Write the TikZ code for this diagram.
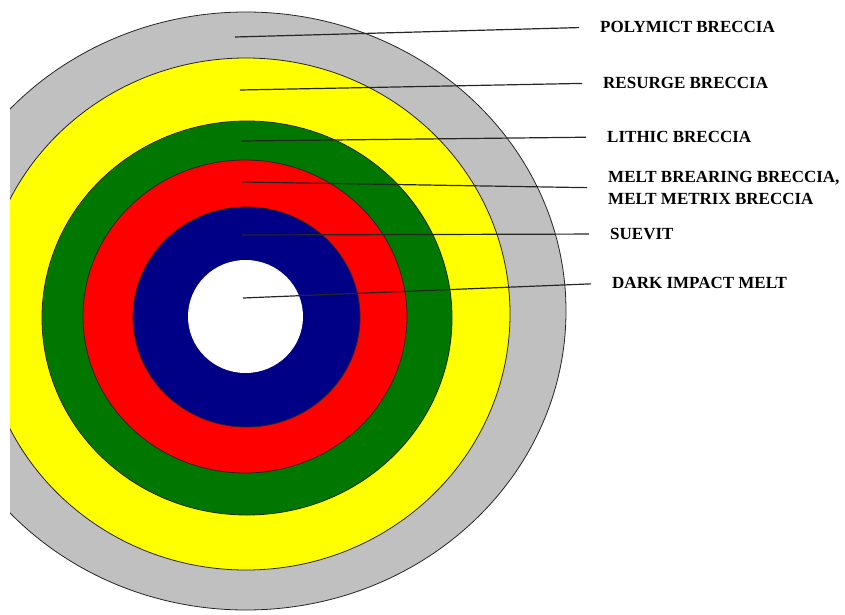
\documentclass[tikz,border=0pt]{standalone}
\usepackage{fontspec}
\setmainfont{Liberation Serif}
\usepackage{tikz}
\usetikzlibrary{positioning,calc}
\definecolor{ringGray}{RGB}{192,192,192}
\definecolor{ringYellow}{RGB}{255,255,0}
\definecolor{ringGreen}{RGB}{0,120,0}
\definecolor{ringRed}{RGB}{255,0,0}
\definecolor{ringBlue}{RGB}{0,0,135}
\tikzset{
  ringln/.style={line width=0.8pt, draw=black!85},
  leadln/.style={line width=1.2pt, black!85, shorten >=21pt},
  lbl/.style={anchor=west, inner sep=0pt, align=left,
    font=\fontsize{17}{22}\selectfont\bfseries},
}
\begin{document}
\begin{tikzpicture}[x=1pt, y=-1pt]
    \useasboundingbox (0,0) rectangle (845,615);
    % the rings, outer to inner, cut at the left edge
    \begin{scope}
      \clip (10,0) rectangle (845,615);
      \foreach \cx/\cy/\rx/\ry/\col in {
          246/311/320/299/ringGray,
          246/314/264/256/ringYellow,
          247/318/205/197/ringGreen,
          245/316.5/162/156.5/ringRed,
          246.5/317/113.5/110/ringBlue}
        \filldraw[ringln, fill=\col] (\cx,\cy) ellipse [x radius=\rx, y radius=\ry];
      \fill[white] (245.5,316.5) ellipse [x radius=57.5, y radius=56.5];
    \end{scope}
    % points inside each ring
    \coordinate (pPoly) at (235,37);
    \coordinate (pResurge) at (240,90);
    \coordinate (pLithic) at (242,141);
    \coordinate (pMelt) at (242,182);
    \coordinate (pSuevit) at (242,235);
    \coordinate (pDark) at (243,298);
    % labels
    \node[lbl] (tPoly) at (600,27) {POLYMICT BRECCIA};
    \node[lbl] (tResurge) at (603,83) {RESURGE BRECCIA};
    \node[lbl] (tLithic) at (607,137) {LITHIC BRECCIA};
    \node[lbl] (tMelt) at (608,188) {MELT BREARING BRECCIA,\\MELT METRIX BRECCIA};
    \node[lbl] (tSuevit) at (610,234) {SUEVIT};
    \node[lbl] (tDark) at (612,283) {DARK IMPACT MELT};
    % leader lines
    \foreach \n in {Poly,Resurge,Lithic,Melt,Suevit,Dark}
      \draw[leadln] (p\n) -- (t\n.west);
  \end{tikzpicture}
\end{document}
